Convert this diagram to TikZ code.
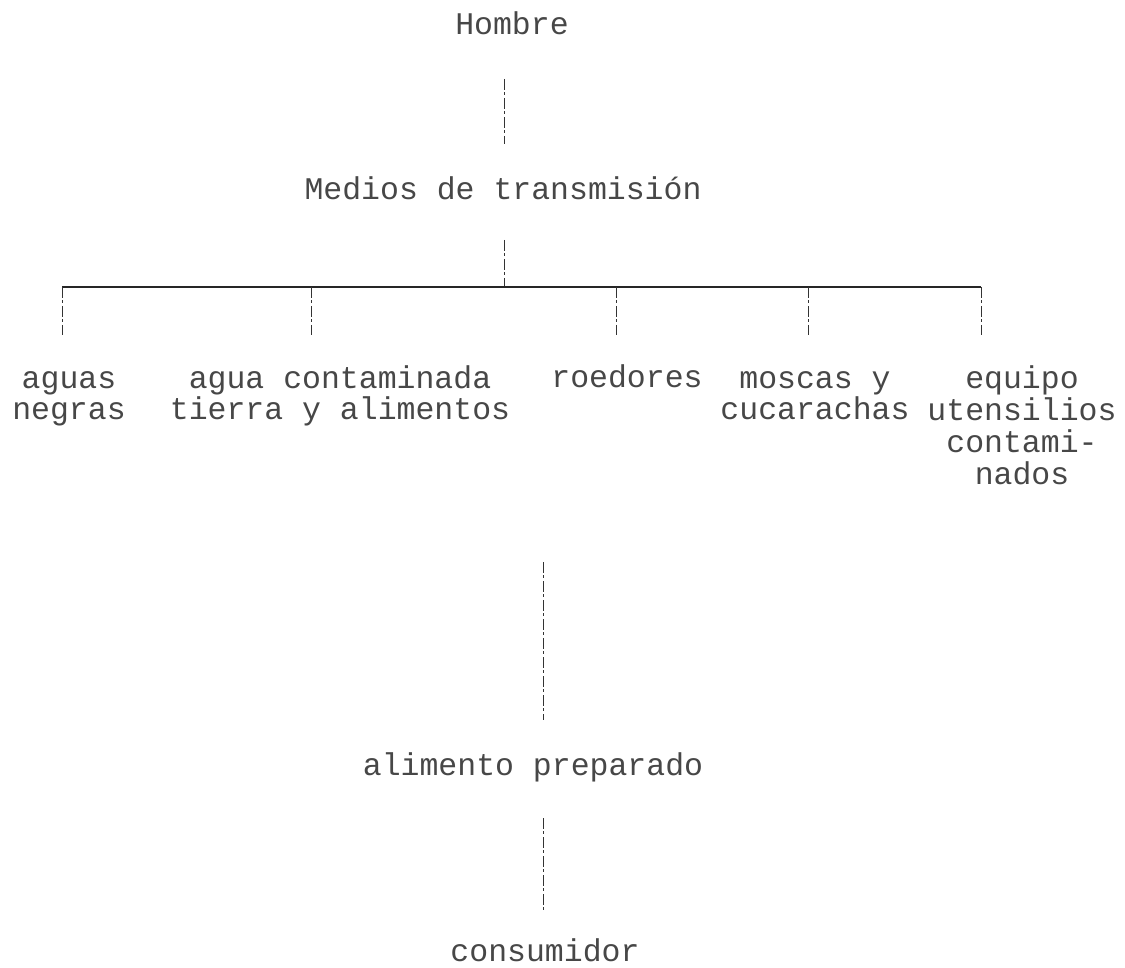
\documentclass[tikz,border=0pt]{standalone}
\usepackage{fontspec}
\newfontfamily\typewriter{Liberation Mono}
\begin{document}
\begin{tikzpicture}[x=1pt,y=-1pt,
  txt/.style={inner sep=0pt, anchor=base, text=black!72,
    font=\typewriter\fontsize{31.5}{32}\selectfont},
  lbl/.style={txt, align=center},
  link/.style={draw=black!80, line width=0.8pt, dash pattern=on 11pt off 2pt on 3pt off 3pt},
  barline/.style={draw=black!85, line width=1.1pt}]
\useasboundingbox (0,0) rectangle (1125,968);
% nodes (multi-line nodes are placed by the baseline of their last line)
\node[txt] (hombre) at (512,35) {Hombre};
\node[txt] (medios) at (503,200) {Medios de transmisión};
\node[lbl] (aguas) at (69,420) {aguas\\negras};
\node[lbl] (agua) at (340,420) {agua contaminada\\tierra y alimentos};
\node[txt] (roedores) at (627,388) {roedores};
\node[lbl] (moscas) at (815,420) {moscas y\\cucarachas};
\node[lbl] (equipo) at (1022,484) {equipo\\utensilios\\contami-\\nados};
\node[txt] (alimento) at (533,775) {alimento preparado};
\node[txt] (consumidor) at (545,961) {consumidor};
% junction coordinates
\coordinate (bar) at (504,287);
\coordinate (d1) at (62,287);
\coordinate (d2) at (311,287);
\coordinate (d3) at (616,287);
\coordinate (d4) at (808,287);
\coordinate (d5) at (981,287);
\coordinate (e1) at (62,335);
\coordinate (e2) at (311,335);
\coordinate (e3) at (616,335);
\coordinate (e4) at (808,335);
\coordinate (e5) at (981,335);
\coordinate (c0) at (543,562);
% connectors
\draw[link] ([yshift=-44pt]hombre.base -| bar) -- ([yshift=56pt]medios.base -| bar);
\draw[link] ([yshift=-40pt]medios.base -| bar) -- (bar);
\draw[barline] (d1) -- (d5);
\draw[link] (d1) -- (e1);
\draw[link] (d2) -- (e2);
\draw[link] (d3) -- (e3);
\draw[link] (d4) -- (e4);
\draw[link] (d5) -- (e5);
\draw[link] (c0) -- ([yshift=55pt]alimento.base -| c0);
\draw[link] ([yshift=-43pt]alimento.base -| c0) -- ([yshift=49pt]consumidor.base -| c0);
\end{tikzpicture}
\end{document}
